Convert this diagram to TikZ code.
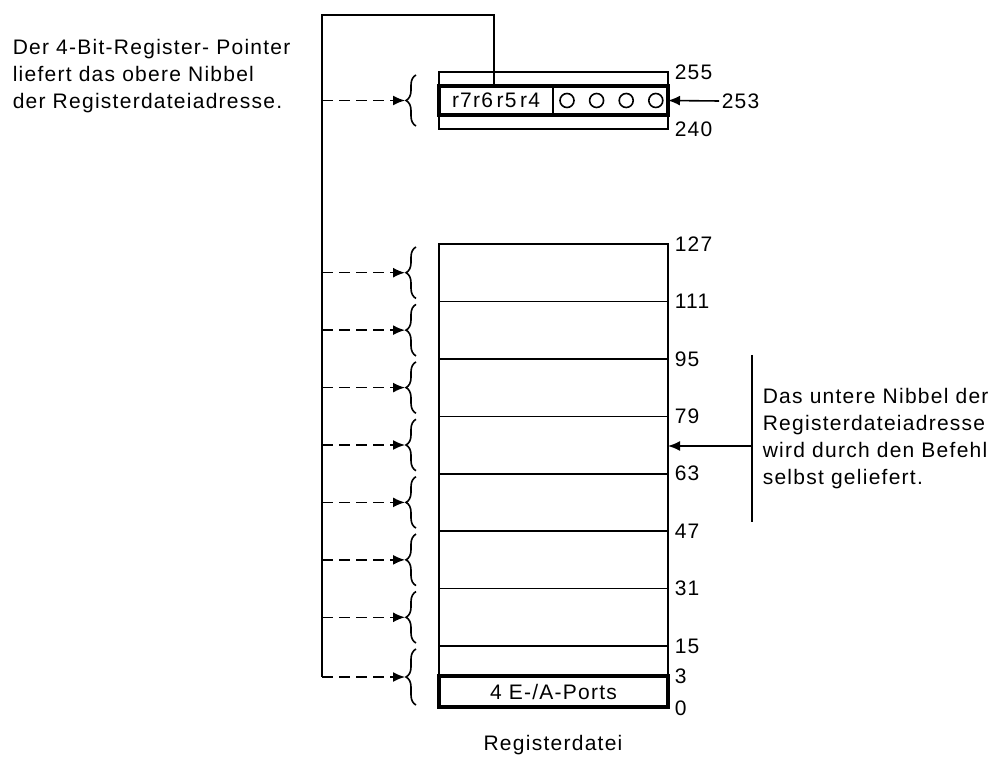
\documentclass[tikz,border=0pt]{standalone}
\usepackage{fontspec}
\setmainfont{Liberation Sans}[LetterSpace=6]
\usetikzlibrary{positioning,arrows.meta,decorations.pathreplacing,calc}

\begin{document}
\begin{tikzpicture}[x=0.5pt, y=-0.5pt, line width=0.8pt,
    font=\fontsize{10.5}{13.5}\selectfont,
    addr/.style={anchor=west, inner sep=1pt},
    bitcirc/.style={circle, draw, minimum size=7pt, inner sep=0pt},
    ptrarrow/.style={dash pattern=on 5.5pt off 3pt, -{Latex[length=6pt,width=5pt]}},
    solidarrow/.style={-{Latex[length=6pt,width=5pt]}},
    nibbrace/.style={decorate, decoration={brace, amplitude=5pt}}]
  \useasboundingbox (0,0) rectangle (994,758);
  \newcommand\xl{439}
  \newcommand\xr{668}
  \newcommand\xbr{416}
  \newcommand\xptr{322}
  % one group of 16 registers: top, bottom, name
  \newcommand\drawgroup[3]{
    \draw[nibbrace] (\xbr,#2-3) -- (\xbr,#1+3);
    \coordinate (tip#3) at (405,{(#1+#2)/2});
    \coordinate (ptr#3) at (\xptr,{(#1+#2)/2});
    \draw[ptrarrow] (ptr#3) -- (tip#3);
  }

  %% upper part: working register group
  \draw (\xl,72) rectangle (\xr,129);
  \draw[line width=2pt] (\xl,86) rectangle (\xr,115);
  \draw (553,86) -- (553,115);
  \node (rp) at (496,100.5) {r7r6\,r5\,r4};
  \node[bitcirc] (b3) at (567,100.5) {};
  \node[bitcirc, right=7pt of b3] (b2) {};
  \node[bitcirc, right=7pt of b2] (b1) {};
  \node[bitcirc, right=7pt of b1] (b0) {};
  \node[addr] (a255) at (672,72) {255};
  \node[addr] (a240) at (672,129) {240};
  \node[addr] (a253) at (719,101) {253};
  \coordinate (in253) at (\xr,100.5);
  \draw[solidarrow] (a253.west) -- (in253);
  \drawgroup{72}{129}{W}

  %% lower part: register file
  \draw (\xl,244) rectangle (\xr,708);
  \draw[line width=2pt] (\xl,676) rectangle (\xr,707);
  \node (ports) at (553.5,692) {4 E-/A-Ports};
  \foreach \y/\lab in {244/127, 301.4/111, 358.9/95, 416.3/79, 473.7/63, 531.1/47, 588.6/31, 646/15} {
    \draw (\xl,\y) -- (\xr,\y);
    \node[addr] at (672,\y) {\lab};
  }
  \node[addr] (a3) at (672,676) {3};
  \node[addr] (a0) at (672,708) {0};
  %
  \drawgroup{244}{301.4}{7}
  \drawgroup{301.4}{358.9}{6}
  \drawgroup{358.9}{416.3}{5}
  \drawgroup{416.3}{473.7}{4}
  \drawgroup{473.7}{531.1}{3}
  \drawgroup{531.1}{588.6}{2}
  \drawgroup{588.6}{646}{1}
  \drawgroup{646}{708}{0}
  %
  \coordinate (rptop) at (494,86);
  \coordinate (rpcorner) at (\xptr,15);
  \draw (rptop) |- (rpcorner) -- (ptr0);

  %% texts
  \node[anchor=north west, align=left, inner sep=0pt] (ltext) at (12,38)
    {Der 4-Bit-Register- Pointer\\ liefert das obere Nibbel\\ der Registerdateiadresse.};
  \coordinate (nibtop) at (752,355);
  \coordinate (nibbot) at (752,522);
  \coordinate (nibin) at (\xr,446);
  \draw (nibtop) -- (nibbot);
  \draw[solidarrow] ($(nibtop)!0.545!(nibbot)$) -- (nibin);
  \node[anchor=north west, align=left, inner sep=0pt] (rtext) at (762,387)
    {Das untere Nibbel der\\ Registerdateiadresse\\ wird durch den Befehl\\ selbst geliefert.};
  \node (title) at (553,745) {Registerdatei};
\end{tikzpicture}
\end{document}
